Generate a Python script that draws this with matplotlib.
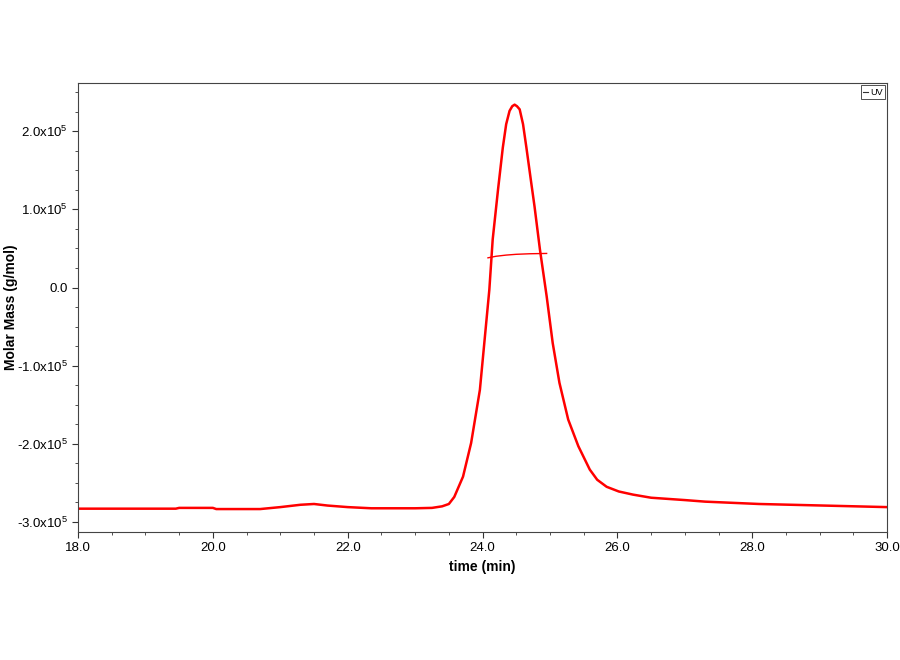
import matplotlib
matplotlib.use("Agg")
import matplotlib.pyplot as plt
from matplotlib.ticker import MultipleLocator, FixedLocator
import numpy as np

# UV trace (time in min, value in units of 1e5 g/mol)
time_uv = [18.0, 19.0, 19.45, 19.5, 20.0, 20.05, 20.7, 21.0, 21.3, 21.5, 21.7, 22.0,
           22.35, 23.0, 23.25, 23.4, 23.5, 23.58, 23.71, 23.83, 23.96, 24.03, 24.10,
           24.15, 24.23, 24.30, 24.35, 24.40, 24.44, 24.475, 24.51, 24.55, 24.60,
           24.65, 24.72, 24.77, 24.85, 24.95, 25.04, 25.14, 25.27, 25.42, 25.59,
           25.70, 25.84, 26.02, 26.23, 26.5, 27.0, 27.3, 28.1, 29.05, 30.0]
uv_e5 = [-2.83, -2.83, -2.83, -2.82, -2.82, -2.835, -2.835, -2.81, -2.78, -2.77, -2.79, -2.81,
         -2.825, -2.825, -2.82, -2.80, -2.77, -2.68, -2.42, -1.99, -1.31, -0.67, -0.03,
         0.615, 1.26, 1.79, 2.09, 2.26, 2.32, 2.34, 2.32, 2.28, 2.09,
         1.79, 1.35, 1.04, 0.49, -0.11, -0.71, -1.22, -1.69, -2.03, -2.33,
         -2.46, -2.55, -2.61, -2.65, -2.69, -2.72, -2.74, -2.77, -2.79, -2.81]

# Molar mass trace
time_mm = [24.08, 24.2, 24.35, 24.5, 24.7, 24.95]
mm_e5 = [0.38, 0.40, 0.415, 0.425, 0.432, 0.436]

ytick_vals = [-3e5, -2e5, -1e5, 0, 1e5, 2e5]
ytick_labels = [r"-3.0x10$^5$", r"-2.0x10$^5$", r"-1.0x10$^5$", "0.0", r"1.0x10$^5$", r"2.0x10$^5$"]
xtick_vals = [18, 20, 22, 24, 26, 28, 30]
xtick_labels = ["18.0", "20.0", "22.0", "24.0", "26.0", "28.0", "30.0"]

plt.rcParams['font.family'] = ['Liberation Sans', 'DejaVu Sans']
plt.rcParams['mathtext.fontset'] = 'custom'
plt.rcParams['mathtext.rm'] = 'Liberation Sans'
plt.rcParams['mathtext.it'] = 'Liberation Sans'
plt.rcParams['axes.unicode_minus'] = False

fig = plt.figure(figsize=(9, 6.6), dpi=100)
ax = fig.add_axes([0.0867, 0.194, 0.899, 0.680])

ax.plot(time_uv, np.array(uv_e5) * 1e5, color='#ff0000', lw=1.8, label='UV')
ax.plot(time_mm, np.array(mm_e5) * 1e5, color='#ff0000', lw=1.0)

ax.set_xlim(18, 30)
ax.set_ylim(-3.128e5, 2.615e5)
ax.xaxis.set_major_locator(FixedLocator(xtick_vals))
ax.set_xticklabels(xtick_labels)
ax.xaxis.set_minor_locator(MultipleLocator(0.5))
ax.yaxis.set_major_locator(FixedLocator(ytick_vals))
ax.set_yticklabels(ytick_labels)
ax.yaxis.set_minor_locator(MultipleLocator(0.25e5))

ax.tick_params(which='major', direction='out', length=4, width=0.8, labelsize=9.5, color='#333333')
ax.tick_params(which='minor', direction='out', length=2, width=0.6, color='#333333')
for s in ax.spines.values():
    s.set_color('#444444')
    s.set_linewidth(0.8)

ax.set_xlabel('time (min)', fontsize=10, fontweight='bold', labelpad=4)
ax.set_ylabel('Molar Mass (g/mol)', fontsize=10, fontweight='bold')
ax.yaxis.set_label_coords(-0.074, 0.5)

leg = ax.legend(loc='upper right', fontsize=6.5, handlelength=0.6, handletextpad=0.2,
                borderpad=0.25, fancybox=False, framealpha=1, borderaxespad=0.25)
leg.get_frame().set_edgecolor('#333333')
leg.get_frame().set_linewidth(0.6)
for l in leg.get_lines():
    l.set_color('#333333')
    l.set_linewidth(0.8)

fig.savefig('out.png', dpi=100)
